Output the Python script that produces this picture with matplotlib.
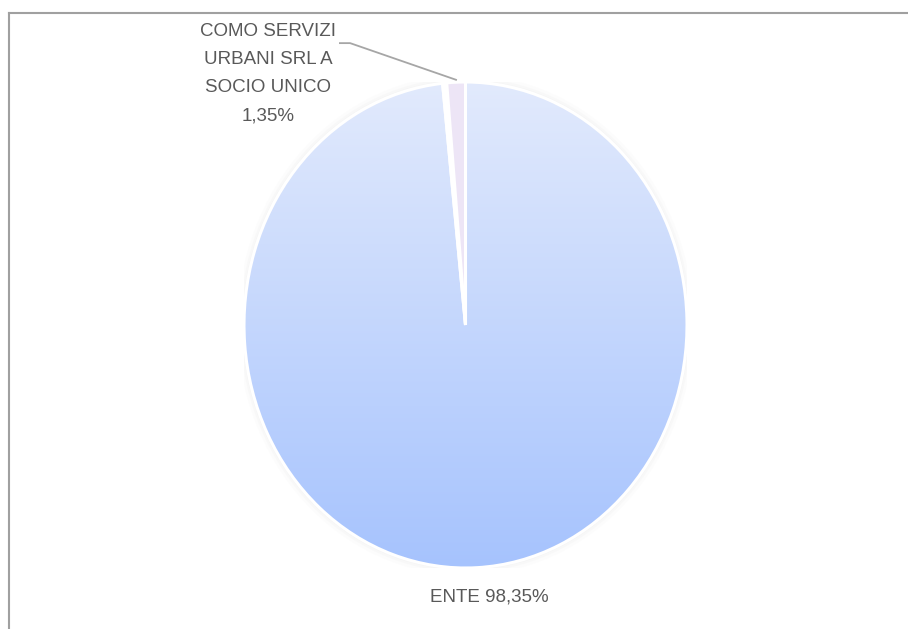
import numpy as np
import matplotlib
matplotlib.use("Agg")
import matplotlib.pyplot as plt
from matplotlib.colors import LinearSegmentedColormap
from matplotlib.patches import Ellipse
from matplotlib.lines import Line2D

# data (percent), clockwise from 12 o'clock
labels = ["ENTE", "ALTRO", "COMO SERVIZI\nURBANI SRL A\nSOCIO UNICO"]
values = [98.35, 0.30, 1.35]
label_text = ["ENTE 98,35%", "", "COMO SERVIZI\nURBANI SRL A\nSOCIO UNICO\n1,35%"]

plt.rcParams['font.family'] = ['Liberation Sans', 'DejaVu Sans']
txt_col = "#595959"

fig = plt.figure(figsize=(9.08, 6.29), dpi=100)
fig.patch.set_facecolor("white")

# axes placed so that the (elliptic) pie fills it
ax = fig.add_axes([244 / 908, (629 - 568) / 629, 443 / 908, 486 / 629])
ax.set_axis_off()

# faint glow around the pie
for r, a in [(1.03, 0.06), (1.018, 0.09), (1.008, 0.12)]:
    ax.add_patch(Ellipse((0, 0), 2 * r, 2 * r, facecolor="#d8d8d8", alpha=a,
                         edgecolor="none", zorder=0))

wedges, _ = ax.pie(values, startangle=90, counterclock=False, radius=1.0,
                   colors=["none", "white", "#EDE5F6"],
                   wedgeprops=dict(edgecolor="white", linewidth=2.2))
for w in wedges:
    w.set_zorder(3)
ax.set_aspect("auto")
ax.set_xlim(-1, 1)
ax.set_ylim(-1, 1)

# vertical gradient for the big slice
cmap = LinearSegmentedColormap.from_list("blu", ["#A6C3FE", "#E2EAFC"])
grad = np.linspace(0, 1, 256).reshape(-1, 1)
im = ax.imshow(grad, extent=(-1, 1, -1, 1), origin="lower", aspect="auto",
               cmap=cmap, zorder=2)
im.set_clip_path(wedges[0])

# labels
como = wedges[2]
mid = np.deg2rad((como.theta1 + como.theta2) / 2)
ax.plot([-0.567, -0.521, 1.01 * np.cos(mid)], [1.160, 1.160, 1.01 * np.sin(mid)],
        color="#A6A6A6", lw=1.3, clip_on=False, zorder=4)
ax.text(-0.892, 1.035, label_text[2], ha="center", va="center", fontsize=13.5,
        color=txt_col, linespacing=1.85, clip_on=False)
ax.text(0.106, -1.119, label_text[0], ha="center", va="center", fontsize=13.5,
        color=txt_col, clip_on=False)

# chart area border (top and left visible)
fig.add_artist(Line2D([8.5 / 908, 1], [1 - 12.5 / 629] * 2, color="#A0A0A0", lw=1.5,
                      transform=fig.transFigure))
fig.add_artist(Line2D([8.5 / 908] * 2, [0, 1 - 12.5 / 629], color="#A0A0A0", lw=1.5,
                      transform=fig.transFigure))

fig.savefig("out.png", dpi=100)
